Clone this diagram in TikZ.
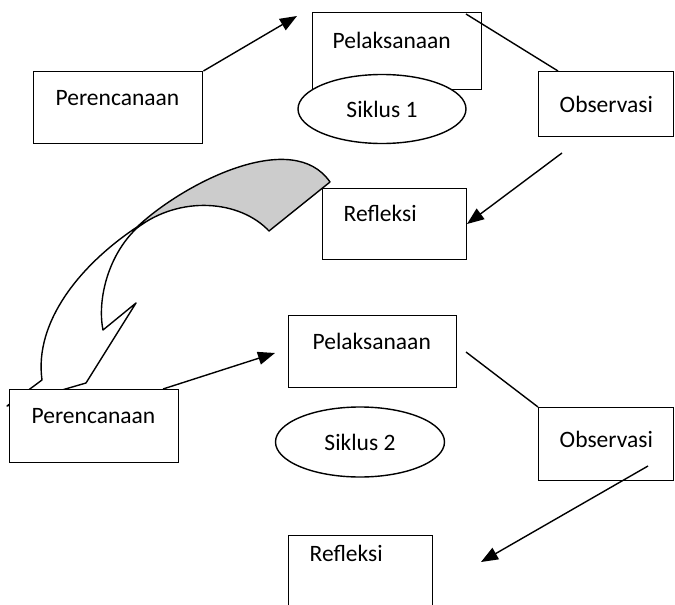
\documentclass[tikz,border=0pt]{standalone}
\usepackage{fontspec}
\setmainfont{Carlito}
\usetikzlibrary{arrows.meta,shapes.geometric}
\begin{document}
\begin{tikzpicture}[x=1pt,y=-1pt,line width=1.4pt,
  box/.style={draw,fill=white,rectangle,inner sep=0pt,anchor=north west},
  txt/.style={font=\fontsize{23.5}{28}\selectfont,inner sep=0pt,anchor=west},
  oval/.style={draw,fill=white,ellipse,inner sep=0pt,font=\fontsize{23.5}{28}\selectfont},
  arr/.style={-{Triangle[length=17pt,width=13pt]}},
  ribbon/.style={fill=black!20}]
\useasboundingbox (0,0) rectangle (675,605);
\clip (0,0) rectangle (675,605);
% curved block arrow
\def\bigarrow{(7,406) -- (42,380) .. controls (34,322) and (80,265) .. (137,227)
  .. controls (185,182) and (293,128) .. (330,182) -- (269,231)
  .. controls (240,200) and (180,195) .. (137,228)
  .. controls (108,255) and (97,300) .. (103,330) -- (136,303) -- (86,383) -- cycle}
\fill[white] \bigarrow;
\fill[ribbon] (137,227) .. controls (185,182) and (293,128) .. (330,182) -- (269,231)
  .. controls (240,200) and (180,195) .. (137,228) -- cycle;
\draw[line join=round] \bigarrow;
% cycle 1
\node[box,minimum width=169pt,minimum height=72pt] (p1) at (33,71) {};
\node[txt] (tp1) at (55,98) {Perencanaan};
\node[box,minimum width=169pt,minimum height=77pt] (e1) at (312,12) {};
\node[txt] (te1) at (332,40) {Pelaksanaan};
\node[oval,minimum width=168pt,minimum height=69pt] (s1) at (382,109) {Siklus 1};
\node[box,minimum width=135pt,minimum height=65pt] (o1) at (538,71) {};
\node[txt] (to1) at (559,104) {Observasi};
\node[box,minimum width=144pt,minimum height=71pt] (r1) at (322,188) {};
\node[txt] (tr1) at (343,213) {Refleksi};
\coordinate (a1e) at (297,16);
\draw[arr] (p1.north east) -- (a1e);
\coordinate (l1s) at (466,14);
\coordinate (l1e) at (558,71);
\draw (l1s) -- (l1e);
\coordinate (a2s) at (562,153);
\coordinate (a2e) at (467,224);
\draw[arr] (a2s) -- (a2e);
% cycle 2
\node[box,minimum width=169pt,minimum height=73pt] (p2) at (9,389) {};
\node[txt] (tp2) at (31,416) {Perencanaan};
\node[box,minimum width=168pt,minimum height=72pt] (e2) at (288,315) {};
\node[txt] (te2) at (312,341) {Pelaksanaan};
\node[oval,minimum width=169pt,minimum height=70pt] (s2) at (360,442) {Siklus 2};
\node[box,minimum width=135pt,minimum height=73pt] (o2) at (538,407) {};
\node[txt] (to2) at (559,439) {Observasi};
\node[box,minimum width=144pt,minimum height=100pt] (r2) at (288,535) {};
\node[txt] (tr2) at (309,553) {Refleksi};
\coordinate (a3s) at (163,389);
\coordinate (a3e) at (275,353);
\draw[arr] (a3s) -- (a3e);
\coordinate (l2s) at (466,352);
\draw (l2s) -- (o2.north west);
\coordinate (a4s) at (648,466);
\coordinate (a4e) at (481,562);
\draw[arr] (a4s) -- (a4e);
\end{tikzpicture}
\end{document}
